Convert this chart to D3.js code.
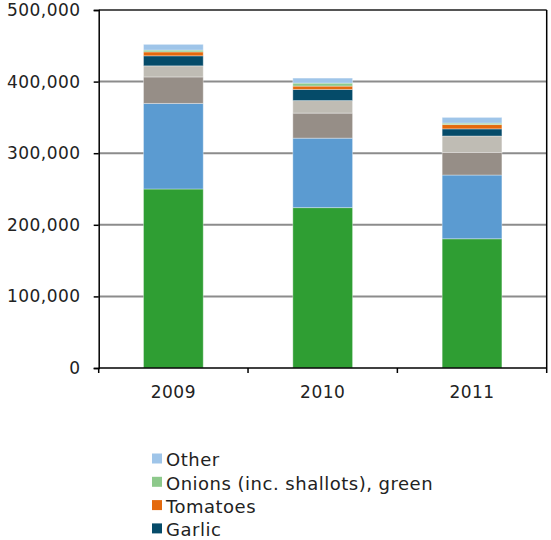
<!DOCTYPE html>
<html>
<head>
<meta charset="utf-8">
<script src="https://cdn.jsdelivr.net/npm/d3@7/dist/d3.min.js"></script>
<style>
  html, body { margin: 0; padding: 0; background: #fff; }
  svg { display: block; font-family: "DejaVu Sans", Verdana, sans-serif; }
</style>
</head>
<body>
<div id="chart"></div>
<script>
// ---- data ----
const years = ["2009", "2010", "2011"];
// stacking order bottom -> top
const seriesNames = ["Series A", "Series B", "Series C", "Series D", "Garlic", "Tomatoes", "Onions (inc. shallots), green", "Other"];
const seriesColors = ["#2f9e33", "#5b9bd1", "#968e87", "#bfbcb4", "#054b69", "#e4690c", "#8dc98b", "#9fc5e9"];
const valuesA = [250000, 224000, 180500];
const valuesB = [119500, 97000, 89000];
const valuesC = [37000, 35000, 31500];
const valuesD = [15500, 17500, 23000];
const valuesGarlic = [14000, 15500, 10000];
const valuesTomatoes = [5500, 4700, 6000];
const valuesOnions = [2500, 4200, 2000];
const valuesOther = [8000, 7000, 8000];
const yTicks = [0, 100000, 200000, 300000, 400000, 500000];
const legendItems = ["Other", "Onions (inc. shallots), green", "Tomatoes", "Garlic"];

const seriesValues = [valuesA, valuesB, valuesC, valuesD, valuesGarlic, valuesTomatoes, valuesOnions, valuesOther];
const rows = years.map((yr, i) => {
  const r = { year: yr };
  seriesNames.forEach((s, k) => r[s] = seriesValues[k][i]);
  return r;
});

// ---- layout ----
const W = 551, H = 540;
const pLeft = 98.7, pRight = 546.7, pTop = 10, pBottom = 368;

const svg = d3.select("#chart").append("svg").attr("width", W).attr("height", H);

const x = d3.scaleBand().domain(years).range([pLeft, pRight]).paddingInner(0.6).paddingOuter(0.3);
const y = d3.scaleLinear().domain([0, 500000]).range([pBottom, pTop]);
const color = d3.scaleOrdinal().domain(seriesNames).range(seriesColors);

// gridlines
svg.append("g").selectAll("line").data(yTicks.filter(t => t > 0)).join("line")
  .attr("x1", pLeft).attr("x2", pRight)
  .attr("y1", d => y(d)).attr("y2", d => y(d))
  .attr("stroke", d => d === 500000 ? "#555" : "#8c8c8c")
  .attr("stroke-width", 2);

// bars
const stacked = d3.stack().keys(seriesNames)(rows);
svg.append("g").selectAll("g").data(stacked).join("g")
  .attr("fill", d => color(d.key))
  .selectAll("rect").data(d => d).join("rect")
  .attr("x", d => x(d.data.year))
  .attr("width", x.bandwidth())
  .attr("y", d => y(d[1]))
  .attr("height", d => y(d[0]) - y(d[1]))
  .attr("stroke", "rgba(255,255,255,0.35)")
  .attr("stroke-width", 1);

// right border
svg.append("line").attr("x1", pRight).attr("x2", pRight).attr("y1", pTop).attr("y2", pBottom)
  .attr("stroke", "#000").attr("stroke-width", 1.5);

// y axis
const yAxis = d3.axisLeft(y).tickValues(yTicks).tickSize(5).tickPadding(13)
  .tickFormat(d3.format(","));
const ya = svg.append("g").attr("transform", `translate(${pLeft},0)`).call(yAxis);
ya.select(".domain").attr("stroke", "#000").attr("stroke-width", 1.5);
ya.selectAll(".tick line").attr("stroke", "#000").attr("stroke-width", 1.5);
ya.selectAll("text").attr("font-size", 17).attr("letter-spacing", 0.5)
  .attr("fill", "#222").attr("font-family", "DejaVu Sans, Verdana, sans-serif");

// x axis
const xa = svg.append("g").attr("transform", `translate(0,${pBottom})`);
xa.append("line").attr("x1", pLeft).attr("x2", pRight).attr("stroke", "#000").attr("stroke-width", 1.5);
const step = x.step();
const bounds = d3.range(years.length + 1).map(i => x.range()[0] + i * step);
xa.selectAll("line.tk").data(bounds).join("line").attr("class", "tk")
  .attr("x1", d => d).attr("x2", d => d).attr("y1", 0).attr("y2", 5)
  .attr("stroke", "#000").attr("stroke-width", 1.5);
xa.selectAll("text").data(years).join("text")
  .attr("x", d => x(d) + x.bandwidth() / 2)
  .attr("y", 30)
  .attr("text-anchor", "middle")
  .attr("font-size", 17).attr("letter-spacing", 0.5)
  .attr("fill", "#222")
  .text(d => d);

// legend
const lg = svg.append("g").attr("transform", "translate(152,453.5)");
const li = lg.selectAll("g").data(legendItems).join("g")
  .attr("transform", (d, i) => `translate(0,${i * 23.3})`);
li.append("rect").attr("x", 0).attr("y", 0).attr("width", 10).attr("height", 10)
  .attr("fill", d => color(d));
li.append("text").attr("x", 14).attr("y", 12.7)
  .attr("font-size", 18).attr("letter-spacing", 0.5).attr("fill", "#222")
  .text(d => d);
</script>
</body>
</html>
